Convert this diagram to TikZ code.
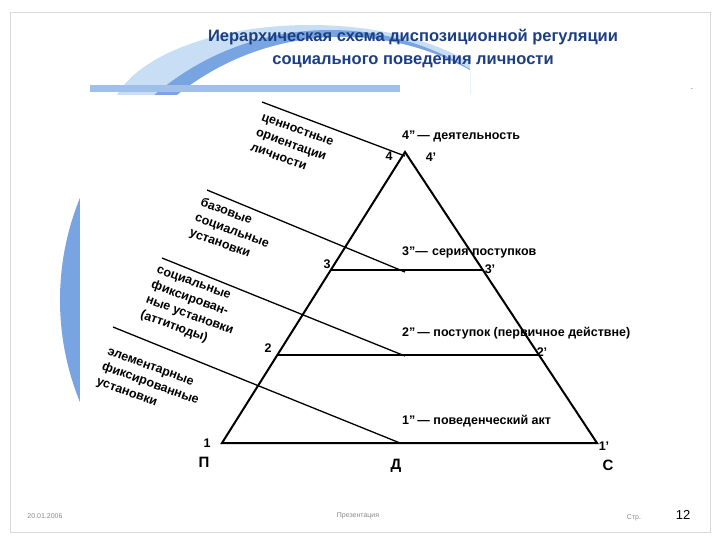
\documentclass[tikz,border=0pt]{standalone}
\usepackage{fontspec}
\setmainfont{Liberation Sans}
\definecolor{swa}{RGB}{200,222,245}
\definecolor{swb}{RGB}{120,165,225}
\definecolor{ttl}{RGB}{28,62,130}
\begin{document}
\begin{tikzpicture}[x=1pt,y=-1pt,
  lab/.style={font=\bfseries\fontsize{12.5}{13}\selectfont, inner sep=1pt},
  rot/.style={font=\bfseries\fontsize{12.5}{16}\selectfont, align=left, rotate=-20, inner sep=0pt},
  ln/.style={line width=2pt},
  foot/.style={text=black!45, font=\fontsize{7}{8}\selectfont}]
\useasboundingbox (0,0) rectangle (720,540);
\fill[white] (0,0) rectangle (720,540);
\draw[black!15] (10,12) rectangle (710,532);
% swoosh
\begin{scope}
\clip (60,20) rectangle (470,95);
\fill[swa] (310,120) ellipse (200 and 95);
\fill[swb] (330,300) circle (270);
\fill[white] (342,300) circle (263);
\end{scope}
\fill[swb!70] (90,85) rectangle (400,92);
\begin{scope}
\clip (60,20) rectangle (80,470);
\fill[swb] (330,300) circle (270);
\end{scope}
\fill[white] (80,95) rectangle (700,472);
\node[text=ttl, font=\bfseries\fontsize{16.5}{23}\selectfont, align=center] (title) at (413,49)
 {Иерархическая схема диспозиционной регуляции\\социального поведения личности};
\node[text=black] (dash) at (692,90) {\tiny -};
% triangle
\coordinate (A) at (405,152);
\coordinate (L) at (222,443);
\coordinate (R) at (597,443);
\draw[ln, line join=miter] (L) -- (A) -- (R) -- cycle;
\coordinate (l3) at (331,270); \coordinate (r3) at (483,270);
\coordinate (l2) at (277,355); \coordinate (r2) at (539,355);
\draw[ln] (l3) -- (r3);
\draw[ln] (l2) -- (r2);
% diagonal lines
\coordinate (d1a) at (262,102); \coordinate (d1b) at (405,156);
\coordinate (d2a) at (207,190); \coordinate (d2b) at (405,272);
\coordinate (d3a) at (162,258); \coordinate (d3b) at (405,356);
\coordinate (d4a) at (113,327); \coordinate (d4b) at (400,443);
\draw[line width=1.3pt] (d1a) -- (d1b);
\draw[line width=1.3pt] (d2a) -- (d2b);
\draw[line width=1.3pt] (d3a) -- (d3b);
\draw[line width=1.3pt] (d4a) -- (d4b);
% rotated labels
\node[rot] (t1) at (292,145) {ценностные\\ориентации\\личности};
\node[rot] (t2) at (232,231) {базовые\\социальные\\установки};
\node[rot] (t3) at (192,309) {социальные\\фиксирован-\\ные установки\\(аттитюды)};
\node[rot] (t4) at (150,385) {элементарные\\фиксированные\\установки};
% numbers
\node[lab] (n4) at (389,156) {4};
\node[lab, anchor=west] (n4b) at (401,136) {4''\,— деятельность};
\node[lab] (n4p) at (431,157) {4'};
\node[lab] (n3) at (327,264) {3};
\node[lab, anchor=west] (n3b) at (401,252) {3''—\,\,серия поступков};
\node[lab] (n3p) at (490,269) {3'};
\node[lab] (n2) at (268,348) {2};
\node[lab, anchor=west] (n2b) at (401,333) {2''\,— поступок (первичное действне)};
\node[lab] (n2p) at (542,352) {2'};
\node[lab] (n1) at (207,443) {1};
\node[lab, anchor=west] (n1b) at (401,421) {1''\,— поведенческий акт};
\node[lab] (n1p) at (604,446) {1'};
\node[lab, font=\bfseries\fontsize{15}{15}\selectfont] (P) at (204,462) {П};
\node[lab, font=\bfseries\fontsize{15}{15}\selectfont] (D) at (396,466) {Д};
\node[lab, font=\bfseries\fontsize{15}{15}\selectfont] (C) at (608,465) {С};
% footer
\node[foot] (f1) at (45,516) {20.01.2006};
\node[foot] (f2) at (358,516) {Презентация};
\node[foot] (f3) at (634,518) {Стр.};
\node[font=\fontsize{13}{14}\selectfont] (f4) at (683,515) {12};
\end{tikzpicture}
\end{document}
